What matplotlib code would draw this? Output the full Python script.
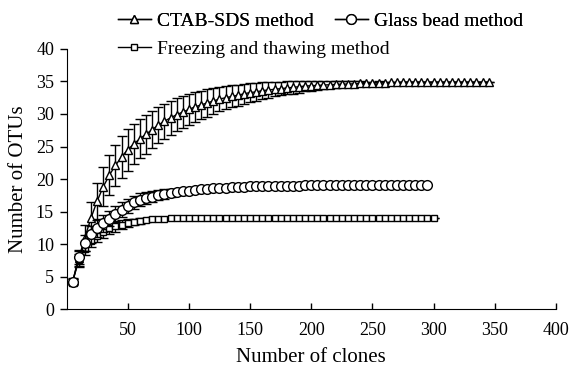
import numpy as np
import matplotlib
matplotlib.use("Agg")
import matplotlib.pyplot as plt

# clone counts (x) for each method
clones_ctab = list(range(5, 350, 5))
clones_glass = list(range(5, 300, 5))
clones_freeze = list(range(5, 305, 5))

# CTAB-SDS method, mean OTUs and error
ctab_otus = [4.2, 7.8, 11.0, 14.0, 16.6, 18.8, 20.6, 22.1, 23.4, 24.5,
             25.4, 26.2, 26.9, 27.6, 28.3, 28.9, 29.4, 29.9, 30.3, 30.7,
             31.1, 31.4, 31.7, 32.0, 32.3, 32.5, 32.7, 32.9, 33.1, 33.3,
             33.4, 33.6, 33.7, 33.8, 33.9, 34.0, 34.1, 34.2, 34.3, 34.35,
             34.4, 34.45, 34.5, 34.55, 34.6, 34.6, 34.65, 34.7, 34.7, 34.75,
             34.8, 34.8, 34.85, 34.85, 34.9, 34.9, 34.9, 34.9, 34.9, 34.9,
             34.9, 34.9, 34.9, 34.9, 34.9, 34.9, 34.9, 34.9, 34.9]
ctab_err = [0.5, 1.3, 2.0, 2.5, 2.8, 3.0, 3.1, 3.2, 3.2, 3.2,
            3.1, 3.0, 3.0, 2.9, 2.8, 2.7, 2.6, 2.5, 2.45, 2.4,
            2.3, 2.2, 2.1, 2.0, 1.9, 1.8, 1.7, 1.6, 1.5, 1.45,
            1.4, 1.3, 1.2, 1.1, 1.05, 1.0, 0.95, 0.9, 0.8, 0.75,
            0.7, 0.6, 0.55, 0.5, 0.45, 0.4, 0.35, 0.3, 0.25, 0.2,
            0.2, 0.15, 0.1, 0.1, 0.05, 0, 0, 0, 0, 0,
            0, 0, 0, 0, 0, 0, 0, 0, 0]

# Glass bead method
glass_otus = [4.2, 8.0, 10.2, 11.5, 12.4, 13.2, 13.9, 14.6, 15.3, 15.9,
              16.4, 16.8, 17.1, 17.3, 17.5, 17.7, 17.85, 18.0, 18.1, 18.2,
              18.3, 18.4, 18.5, 18.55, 18.6, 18.65, 18.7, 18.75, 18.8, 18.85,
              18.9, 18.9, 18.95, 18.95, 19.0, 19.0, 19.0, 19.0, 19.05, 19.05,
              19.05, 19.05, 19.1, 19.1, 19.1, 19.1, 19.1, 19.1, 19.1, 19.1,
              19.1, 19.1, 19.1, 19.1, 19.1, 19.1, 19.1, 19.1, 19.1]
glass_err = [0.4, 1.0, 1.2, 1.3, 1.3, 1.3, 1.2, 1.2, 1.1, 1.1,
             1.0, 1.0, 0.9, 0.8, 0.8, 0.7, 0.6, 0.5, 0.5, 0.4,
             0.4, 0.3, 0.3, 0.3, 0.2, 0.2, 0.2, 0.15, 0.1, 0.1,
             0, 0, 0, 0, 0, 0, 0, 0, 0, 0,
             0, 0, 0, 0, 0, 0, 0, 0, 0, 0,
             0, 0, 0, 0, 0, 0, 0, 0, 0]

# Freezing and thawing method
freeze_otus = [4.2, 7.5, 9.3, 10.5, 11.3, 11.9, 12.4, 12.7, 13.0, 13.2,
               13.4, 13.55, 13.7, 13.8, 13.85, 13.9, 13.95, 14.0, 14.0, 14.0,
               14.0, 14.0, 14.0, 14.0, 14.0, 14.0, 14.0, 14.0, 14.0, 14.0,
               14.0, 14.0, 14.0, 14.0, 14.0, 14.0, 14.0, 14.0, 14.0, 14.0,
               14.0, 14.0, 14.0, 14.0, 14.0, 14.0, 14.0, 14.0, 14.0, 14.0,
               14.0, 14.0, 14.0, 14.0, 14.0, 14.0, 14.0, 14.0, 14.0, 14.0]
freeze_err = [0.4, 0.9, 1.0, 1.0, 1.0, 0.9, 0.9, 0.8, 0.7, 0.6,
              0.5, 0.4, 0.3, 0.3, 0.2, 0.2, 0.1, 0.1, 0, 0,
              0, 0, 0, 0, 0, 0, 0, 0, 0, 0,
              0, 0, 0, 0, 0, 0, 0, 0, 0, 0,
              0, 0, 0, 0, 0, 0, 0, 0, 0, 0,
              0, 0, 0, 0, 0, 0, 0, 0, 0, 0]

x_ticks = [50, 100, 150, 200, 250, 300, 350, 400]
y_ticks = [0, 5, 10, 15, 20, 25, 30, 35, 40]

plt.rcParams['font.family'] = ['Liberation Serif', 'DejaVu Serif']

fig = plt.figure(figsize=(5.74, 3.67), dpi=100)
ax = fig.add_axes([0.1159, 0.158, 0.8527, 0.7085])

common = dict(color='black', lw=1.0, elinewidth=1.0, capsize=3.5, capthick=1.0,
              markerfacecolor='white', markeredgecolor='black', markeredgewidth=1.0)

h_freeze = ax.errorbar(clones_freeze, freeze_otus, yerr=freeze_err, marker='s',
                       markersize=5, zorder=2, **common)
h_ctab = ax.errorbar(clones_ctab, ctab_otus, yerr=ctab_err, marker='^',
                     markersize=6, zorder=3, **common)
h_glass = ax.errorbar(clones_glass, glass_otus, yerr=glass_err, marker='o',
                      markersize=7, zorder=4, **common)

ax.set_xlim(0, 400)
ax.set_ylim(0, 40)
ax.set_xticks(x_ticks)
ax.set_yticks(y_ticks)
ax.tick_params(axis='x', direction='in', length=4, width=1, pad=9, labelsize=13)
ax.tick_params(axis='y', direction='out', length=5, width=1, pad=4, labelsize=13)
ax.spines['top'].set_visible(False)
ax.spines['right'].set_visible(False)
ax.set_xlabel('Number of clones', fontsize=15, labelpad=7)
ax.set_ylabel('Number of OTUs', fontsize=15, labelpad=6)

# legend: two entries on the first row, one on the second
leg_kw = dict(frameon=False, fontsize=14, handlelength=1.7, handletextpad=0.3,
              borderaxespad=0, borderpad=0, columnspacing=1.1)
leg1 = fig.legend([h_ctab[0], h_glass[0]], ['CTAB-SDS method', 'Glass bead method'],
                  ncol=2, loc='center left', bbox_to_anchor=(0.205, 0.943), **leg_kw)
fig.add_artist(leg1)
fig.legend([h_freeze[0]], ['Freezing and thawing method'],
           loc='center left', bbox_to_anchor=(0.205, 0.866), **leg_kw)

fig.savefig('out.png', dpi=100)
